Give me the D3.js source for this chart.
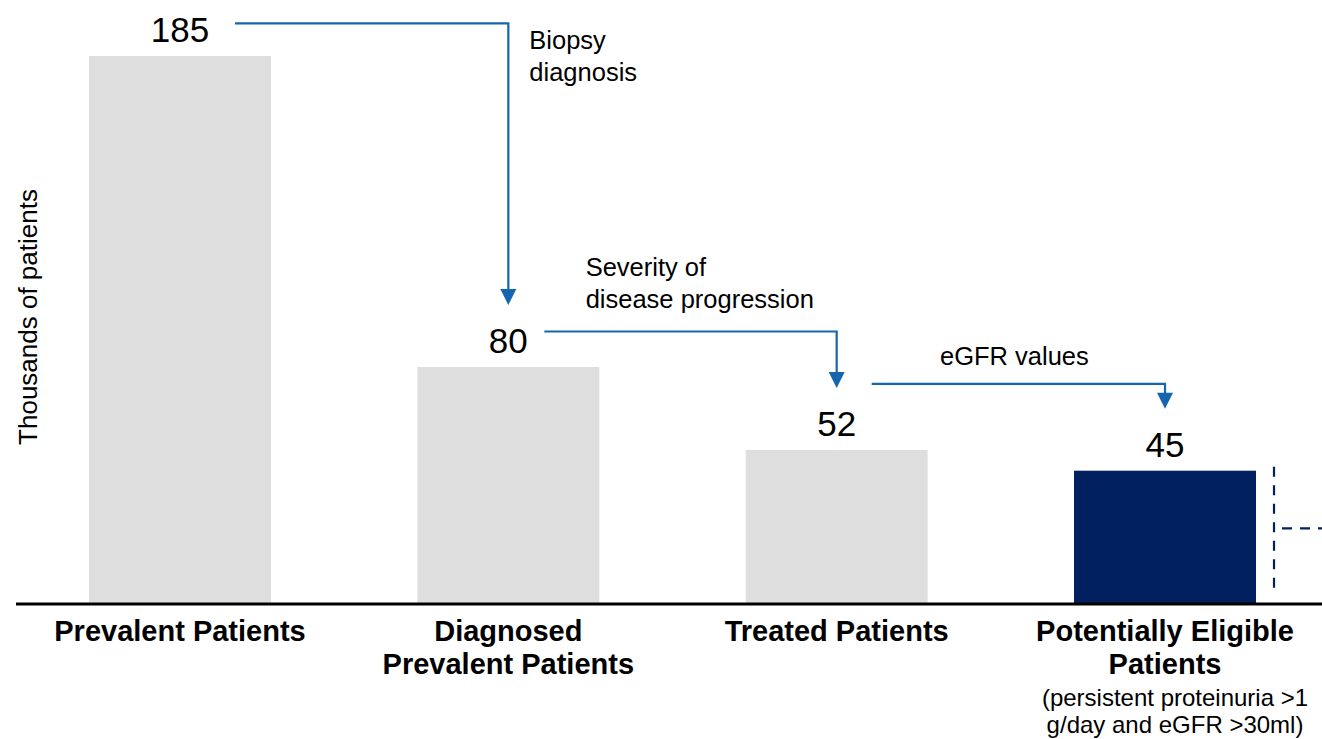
<!DOCTYPE html>
<html>
<head>
<meta charset="utf-8">
<script src="https://cdn.jsdelivr.net/npm/d3@7"></script>
<style>
  html, body { margin: 0; padding: 0; background: #fff; }
  svg { display: block; font-family: "Liberation Sans", Arial, sans-serif; }
</style>
</head>
<body>
<svg id="chart" width="1322" height="739"></svg>
<script>
// Patient funnel (thousands of patients)
const categories = ["Prevalent Patients", "Diagnosed Prevalent Patients", "Treated Patients", "Potentially Eligible Patients"];
const categoryLines = [
  ["Prevalent Patients"],
  ["Diagnosed", "Prevalent Patients"],
  ["Treated Patients"],
  ["Potentially Eligible", "Patients"]
];
const categoryNotes = [[], [], [], ["(persistent proteinuria >1", "g/day and eGFR >30ml)"]];
const patients = [185, 80, 52, 45];
const highlighted = [false, false, false, true];

// Filters applied between consecutive stages
const stepLabels = [
  ["Biopsy", "diagnosis"],
  ["Severity of", "disease progression"],
  ["eGFR values"]
];
// level (in thousands of patients) at which each connector runs
const stepLevels = [196, 92, 74.3];

const yTitle = "Thousands of patients";

// ---- layout ----
const W = 1322, H = 739;
const baseY = 604;
const svg = d3.select("#chart");

const x = d3.scaleBand()
  .domain(categories)
  .range([16, 1329])
  .paddingInner(0.4457)
  .paddingOuter(0.2223);

const y = d3.scaleLinear()
  .domain([0, 185])
  .range([baseY, 56]);

const GREY = "#dedede", NAVY = "#002060", BLUE = "#1565b0";

// bars
svg.append("g").selectAll("rect")
  .data(categories)
  .join("rect")
  .attr("x", d => x(d))
  .attr("y", (d, i) => y(patients[i]))
  .attr("width", x.bandwidth())
  .attr("height", (d, i) => baseY - y(patients[i]))
  .attr("fill", (d, i) => highlighted[i] ? NAVY : GREY);

// value labels
svg.append("g").selectAll("text")
  .data(categories)
  .join("text")
  .attr("x", d => x(d) + x.bandwidth() / 2)
  .attr("y", (d, i) => y(patients[i]) - 14)
  .attr("text-anchor", "middle")
  .attr("font-size", 35)
  .attr("fill", "#000")
  .text((d, i) => patients[i]);

// baseline axis
const xAxis = d3.axisBottom(x).tickSize(0).tickFormat("");
const axisG = svg.append("g").attr("transform", `translate(0,${baseY})`).call(xAxis);
axisG.select(".domain").remove();
svg.append("line")
  .attr("x1", 16).attr("x2", W)
  .attr("y1", baseY).attr("y2", baseY)
  .attr("stroke", "#000").attr("stroke-width", 3);

// category labels
const catG = svg.append("g").selectAll("g")
  .data(categories)
  .join("g")
  .attr("transform", d => `translate(${x(d) + x.bandwidth() / 2},0)`);

catG.each(function (d, i) {
  const g = d3.select(this);
  categoryLines[i].forEach((line, k) => {
    g.append("text")
      .attr("y", 641 + k * 33)
      .attr("text-anchor", "middle")
      .attr("font-size", 29)
      .attr("font-weight", "bold")
      .attr("fill", "#000")
      .text(line);
  });
  categoryNotes[i].forEach((line, k) => {
    g.append("text")
      .attr("x", 10)
      .attr("y", 706 + k * 27)
      .attr("text-anchor", "middle")
      .attr("font-size", 24)
      .attr("fill", "#000")
      .text(line);
  });
});

// y-axis title
svg.append("text")
  .attr("transform", `translate(37,317) rotate(-90)`)
  .attr("text-anchor", "middle")
  .attr("font-size", 26)
  .attr("fill", "#000")
  .text(yTitle);

// connector arrows between stages
const startGap = [55, 36, 35];          // from bar centre to the start of the connector
const textPos = [                        // step label anchor (left, first baseline)
  { dx: 21, y: 49 },
  { dx: -251, y: 276 },
  { dx: -225, y: 365 }
];
const arrG = svg.append("g");
stepLabels.forEach((lbl, i) => {
  const from = categories[i], to = categories[i + 1];
  const x0 = x(from) + x.bandwidth() / 2 + startGap[i];
  const x1 = x(to) + x.bandwidth() / 2;
  const yl = y(stepLevels[i]);
  const tip = y(patients[i + 1]) - 62;
  const head = 16;
  arrG.append("path")
    .attr("d", `M${x0},${yl} H${x1} V${tip - head + 1}`)
    .attr("fill", "none")
    .attr("stroke", BLUE)
    .attr("stroke-width", 2.2);
  arrG.append("path")
    .attr("d", `M${x1 - 8},${tip - head} L${x1 + 8},${tip - head} L${x1},${tip} Z`)
    .attr("fill", BLUE);
  lbl.forEach((t, k) => {
    arrG.append("text")
      .attr("x", x1 + textPos[i].dx)
      .attr("y", textPos[i].y + k * 32)
      .attr("font-size", 25.5)
      .attr("fill", "#000")
      .text(t);
  });
});

// dashed bracket beside the highlighted bar
const hi = categories[highlighted.indexOf(true)];
const bx = x(hi) + x.bandwidth() + 18;
const bTop = y(patients[highlighted.indexOf(true)]) - 4;
const bBot = baseY - 14;
svg.append("line")
  .attr("x1", bx).attr("x2", bx)
  .attr("y1", bTop).attr("y2", bBot)
  .attr("stroke", NAVY).attr("stroke-width", 2.2)
  .attr("stroke-dasharray", "10,8.5");
svg.append("line")
  .attr("x1", bx + 8).attr("x2", W + 5)
  .attr("y1", (bTop + bBot) / 2).attr("y2", (bTop + bBot) / 2)
  .attr("stroke", NAVY).attr("stroke-width", 2.2)
  .attr("stroke-dasharray", "10,8");
</script>
</body>
</html>
